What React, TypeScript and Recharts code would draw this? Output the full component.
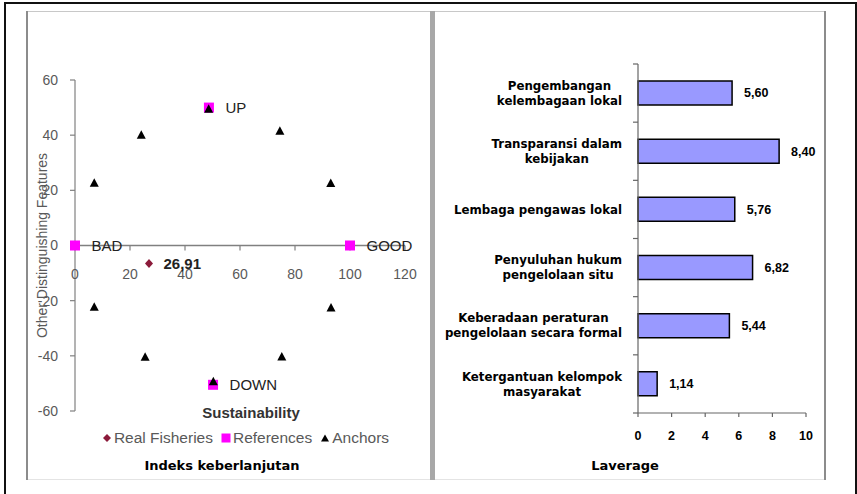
import React from 'react';
import {
  ScatterChart,
  Scatter,
  XAxis,
  YAxis,
  ReferenceLine,
  ReferenceDot,
  LabelList,
  BarChart,
  Bar,
} from 'recharts';

// ---------- Left chart data (Indeks keberlanjutan) ----------
const realFisheries = [{ x: 26.91, y: -6.5, label: '26,91' }];
const referencePoints = [
  { x: 0, y: 0, label: 'BAD' },
  { x: 100, y: 0, label: 'GOOD' },
  { x: 48.7, y: 50, label: 'UP' },
  { x: 50.2, y: -50.5, label: 'DOWN' },
];
const anchorPoints = [
  { x: 7, y: 22.6 },
  { x: 24.1, y: 40 },
  { x: 48.6, y: 49.4 },
  { x: 74.5, y: 41.4 },
  { x: 93, y: 22.5 },
  { x: 7, y: -22.4 },
  { x: 25.5, y: -40.5 },
  { x: 50.3, y: -49.4 },
  { x: 75.2, y: -40.4 },
  { x: 93.1, y: -22.7 },
];
const sustainabilityTicks = [0, 20, 40, 60, 80, 100, 120];
const featureTicks = [-60, -40, -20, 0, 20, 40, 60];
const legendNames = ['Real Fisheries', 'References', 'Anchors'];

// ---------- Right chart data (Laverage) ----------
const leverageCategories = [
  'Pengembangan\nkelembagaan lokal',
  'Transparansi dalam\nkebijakan',
  'Lembaga pengawas lokal',
  'Penyuluhan hukum\npengelolaan situ',
  'Keberadaan peraturan\npengelolaan secara formal',
  'Ketergantuan kelompok\nmasyarakat',
];
const leverageValues = [5.6, 8.4, 5.76, 6.82, 5.44, 1.14];
const leverageTicks = [0, 2, 4, 6, 8, 10];

const leverageData = leverageCategories.map((name, i) => ({ name, value: leverageValues[i] }));

const ARIAL = '"Liberation Sans", Arial, sans-serif';
const VERDANA = '"DejaVu Sans", Verdana, sans-serif';
const DIAMOND_COLOR = '#8B1A3A';
const REF_COLOR = '#FF00FF';
const ANCHOR_COLOR = '#000000';
const AXIS_GRAY = '#808080';
const TICK_GRAY = '#595959';

// bar chart layout
const BAR_W = 390;
const BAR_H = 467;
const BAR_MARGIN = { top: 52, right: 19, left: 0, bottom: 0 };
const BAR_XAXIS_H = 66;
const BAND_HALF = (BAR_H - BAR_MARGIN.top - BAR_MARGIN.bottom - BAR_XAXIS_H) / leverageCategories.length / 2;

const DiamondShape = (p: any) => {
  const { cx, cy } = p;
  return (
    <polygon
      points={`${cx},${cy - 4.5} ${cx + 4},${cy} ${cx},${cy + 4.5} ${cx - 4},${cy}`}
      fill={DIAMOND_COLOR}
    />
  );
};
const SquareShape = (p: any) => {
  const { cx, cy } = p;
  return <rect x={cx - 5} y={cy - 5} width={10} height={10} fill={REF_COLOR} />;
};
const TriangleShape = (p: any) => {
  const { cx, cy } = p;
  return (
    <polygon
      points={`${cx},${cy - 5} ${cx + 4.5},${cy + 3.5} ${cx - 4.5},${cy + 3.5}`}
      fill={ANCHOR_COLOR}
    />
  );
};

const makeXTick = (t: number) => (p: any) => {
  const { cx, cy } = p;
  return (
    <g>
      <line x1={cx} y1={cy} x2={cx} y2={cy + 5} stroke={AXIS_GRAY} strokeWidth={1.2} />
      <text x={cx} y={cy + 33} textAnchor="middle" fontSize={14} fontFamily={ARIAL} fill={TICK_GRAY}>
        {t}
      </text>
    </g>
  );
};

let measureCtx: CanvasRenderingContext2D | null = null;
const measure = (s: string, font: string) => {
  if (!measureCtx) {
    const c = document.createElement('canvas');
    measureCtx = c.getContext('2d');
  }
  if (!measureCtx) return s.length * 7;
  measureCtx.font = font;
  return measureCtx.measureText(s).width;
};

const CAT_TICK_MARGIN = 16;
const CAT_FONT_SIZE = 11.8;
const CategoryTick = (p: any) => {
  const { x, y, payload, index } = p;
  const lines = String(payload.value).split('\n');
  const font = `bold ${CAT_FONT_SIZE}px "DejaVu Sans"`;
  const maxW = Math.max(...lines.map((l) => measure(l, font)));
  const centerX = x - maxW / 2;
  const lineH = 15;
  const startY = y - ((lines.length - 1) * lineH) / 2;
  const axisX = x + CAT_TICK_MARGIN;
  return (
    <g>
      <line x1={axisX - 5} x2={axisX} y1={y - BAND_HALF} y2={y - BAND_HALF} stroke="#666" strokeWidth={1.2} />
      {index === leverageCategories.length - 1 && (
        <line x1={axisX - 5} x2={axisX} y1={y + BAND_HALF} y2={y + BAND_HALF} stroke="#666" strokeWidth={1.2} />
      )}
      <text
        textAnchor="middle"
        fontSize={CAT_FONT_SIZE}
        fontWeight="bold"
        fontFamily={VERDANA}
        fill="#000"
      >
        {lines.map((l, i) => (
          <tspan key={i} x={centerX} y={startY + i * lineH} dy="0.35em">
            {l}
          </tspan>
        ))}
      </text>
    </g>
  );
};

const formatComma = (v: any) => Number(v).toFixed(2).replace('.', ',');

const LegendIcon = ({ kind }: { kind: number }) => {
  if (kind === 0)
    return (
      <svg width={10} height={10}>
        <polygon points="5,1 9,5 5,9 1,5" fill={DIAMOND_COLOR} />
      </svg>
    );
  if (kind === 1)
    return (
      <svg width={10} height={10}>
        <rect x={0.5} y={0.5} width={9} height={9} fill={REF_COLOR} />
      </svg>
    );
  return (
    <svg width={10} height={10}>
      <polygon points="5,1.5 9,8.5 1,8.5" fill={ANCHOR_COLOR} />
    </svg>
  );
};

export default function App() {
  return (
    <div
      style={{
        position: 'absolute',
        left: 0,
        top: 0,
        width: 857,
        height: 494,
        background: '#fff',
        overflow: 'hidden',
      }}
    >
      {/* outer black frame */}
      <div
        style={{
          position: 'absolute',
          left: 4,
          top: 2,
          width: 853,
          height: 510,
          border: '2px solid #111',
          boxSizing: 'border-box',
        }}
      />
      {/* panel decorations */}
      <div style={{ position: 'absolute', left: 27, top: 11, width: 798, height: 1, background: '#c8c8c8' }} />
      <div style={{ position: 'absolute', left: 27, top: 479, width: 798, height: 1, background: '#e4e4e4' }} />
      <div style={{ position: 'absolute', left: 26, top: 11, width: 2, height: 469, background: '#8c8c8c' }} />
      <div style={{ position: 'absolute', left: 430, top: 11, width: 5, height: 469, background: '#a8a8a8' }} />
      <div style={{ position: 'absolute', left: 824, top: 11, width: 2, height: 469, background: '#8c8c8c' }} />

      {/* Left: scatter */}
      <div style={{ position: 'absolute', left: 27, top: 12 }}>
        <ScatterChart width={403} height={467} margin={{ top: 68, right: 25, left: 0, bottom: 64 }}>
          <XAxis
            type="number"
            dataKey="x"
            domain={[0, 120]}
            ticks={sustainabilityTicks}
            height={4}
            axisLine={false}
            tickLine={false}
            tick={false}
            label={{
              value: 'Sustainability',
              position: 'center',
              dx: 11,
              fontSize: 15,
              fontWeight: 'bold',
              fontFamily: ARIAL,
              fill: '#333',
            }}
          />
          <YAxis
            type="number"
            dataKey="y"
            domain={[-60, 60]}
            ticks={featureTicks}
            width={48}
            stroke={AXIS_GRAY}
            strokeWidth={1.2}
            tickSize={5}
            tickMargin={12}
            tick={{ fontSize: 14, fontFamily: ARIAL, fill: TICK_GRAY }}
            label={{
              value: 'Other Distinguishing Features',
              angle: -90,
              position: 'center',
              dx: -9,
              fontSize: 14,
              fontFamily: ARIAL,
              fill: TICK_GRAY,
            }}
          />
          <ReferenceLine y={0} stroke={AXIS_GRAY} strokeWidth={1.5} />
          {sustainabilityTicks.map((t) => (
            <ReferenceDot key={t} x={t} y={0} r={0} shape={makeXTick(t)} />
          ))}
          <Scatter
            name={legendNames[0]}
            data={realFisheries}
            shape={DiamondShape}
            isAnimationActive={false}
          >
            <LabelList
              dataKey="label"
              position="right"
              offset={10}
              fontSize={15}
              fontWeight="bold"
              fontFamily={ARIAL}
              fill="#222"
            />
          </Scatter>
          <Scatter
            name={legendNames[1]}
            data={referencePoints}
            shape={SquareShape}
            isAnimationActive={false}
          >
            <LabelList
              dataKey="label"
              position="right"
              offset={12}
              fontSize={15}
              fontFamily={ARIAL}
              fill="#222"
            />
          </Scatter>
          <Scatter
            name={legendNames[2]}
            data={anchorPoints}
            shape={TriangleShape}
            isAnimationActive={false}
          />
        </ScatterChart>
      </div>

      {/* Left legend */}
      <div
        style={{
          position: 'absolute',
          left: 0,
          top: 429,
          width: 491,
          display: 'flex',
          justifyContent: 'center',
          alignItems: 'center',
          fontFamily: ARIAL,
          fontSize: 15.5,
          color: TICK_GRAY,
          lineHeight: '18px',
        }}
      >
        {legendNames.map((n, i) => (
          <div key={n} style={{ display: 'flex', alignItems: 'center', marginRight: i < 2 ? 8 : 0 }}>
            <LegendIcon kind={i} />
            <span style={{ marginLeft: 2 }}>{n}</span>
          </div>
        ))}
      </div>

      {/* Right: bar chart */}
      <div style={{ position: 'absolute', left: 435, top: 12 }}>
        <BarChart layout="vertical" width={BAR_W} height={BAR_H} data={leverageData} margin={BAR_MARGIN}>
          <XAxis
            type="number"
            domain={[0, 10]}
            ticks={leverageTicks}
            height={BAR_XAXIS_H}
            stroke="#666"
            strokeWidth={1.2}
            tickSize={4}
            tickMargin={14}
            tick={{ fontSize: 12.5, fontWeight: 'bold', fontFamily: ARIAL, fill: '#000' }}
          />
          <YAxis
            type="category"
            dataKey="name"
            width={203}
            stroke="#666"
            strokeWidth={1.2}
            tickLine={false}
            tickSize={0}
            tickMargin={CAT_TICK_MARGIN}
            tick={<CategoryTick />}
            interval={0}
          />
          <Bar
            dataKey="value"
            barSize={24}
            fill="#9999FF"
            stroke="#000"
            strokeWidth={1.5}
            isAnimationActive={false}
          >
            <LabelList
              dataKey="value"
              position="right"
              offset={12}
              formatter={formatComma}
              fontSize={12.5}
              fontWeight="bold"
              fontFamily={ARIAL}
              fill="#000"
            />
          </Bar>
        </BarChart>
      </div>

      {/* Captions */}
      <div
        style={{
          position: 'absolute',
          left: 122,
          top: 457,
          width: 200,
          textAlign: 'center',
          fontFamily: VERDANA,
          fontWeight: 'bold',
          fontSize: 13,
          color: '#000',
          lineHeight: '18px',
        }}
      >
        Indeks keberlanjutan
      </div>
      <div
        style={{
          position: 'absolute',
          left: 525,
          top: 457,
          width: 200,
          textAlign: 'center',
          fontFamily: VERDANA,
          fontWeight: 'bold',
          fontSize: 13,
          color: '#000',
          lineHeight: '18px',
        }}
      >
        Laverage
      </div>
    </div>
  );
}
